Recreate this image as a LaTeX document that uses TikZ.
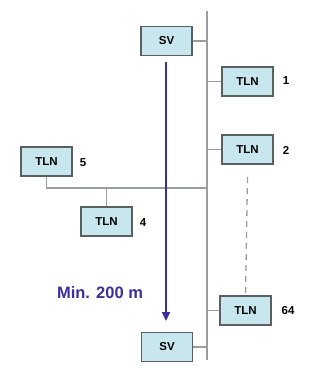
\documentclass[tikz,border=0pt]{standalone}
\usepackage{fontspec}
\setmainfont{Liberation Sans}
\usetikzlibrary{arrows.meta}
\definecolor{boxfill}{HTML}{C8E6EE}
\definecolor{boxline}{HTML}{5A5F62}
\definecolor{busline}{HTML}{9A9EA1}
\definecolor{arrowblue}{HTML}{3B2F9C}
\tikzset{
  dev/.style={draw=boxline, line width=1.1pt, fill=boxfill, minimum width=51pt, minimum height=29pt, inner sep=0pt, font=\bfseries\fontsize{11.5}{12}\selectfont},
  num/.style={font=\bfseries\fontsize{11.5}{12}\selectfont, inner sep=0pt},
  bus/.style={draw=busline, line width=1.3pt},
}
\begin{document}
\begin{tikzpicture}[x=1pt,y=-1pt]
\useasboundingbox (0,0) rectangle (332,377);
% bus
\coordinate (btop) at (207,11);
\coordinate (bbot) at (207,360);
\draw[bus] (btop) -- (bbot);
% nodes
\node[dev] (sv1) at (166.5,41) {SV};
\node[dev] (t1) at (247.5,81.5) {TLN};
\node[dev] (t2) at (247.5,149.5) {TLN};
\node[dev] (t64) at (245.5,310.5) {TLN};
\node[dev] (sv2) at (167,347) {SV};
\node[dev] (t5) at (46.5,161.5) {TLN};
\node[dev] (t4) at (106.5,221.5) {TLN};
% labels
\node[num] (l1) at (286,81) {1};
\node[num] (l2) at (286,150) {2};
\node[num] (l64) at (288,311) {64};
\node[num] (l5) at (83,163) {5};
\node[num] (l4) at (143,223) {4};
% stubs to bus
\draw[bus] (sv1.east) -- (sv1.east -| btop);
\draw[bus] (t1.west) -- (t1.west -| btop);
\draw[bus] (t2.west) -- (t2.west -| btop);
\draw[bus] (t64.west) -- (t64.west -| btop);
\draw[bus] (sv2.east) -- (sv2.east -| btop);
% branch
\coordinate (br) at (207,188);
\draw[bus] (t5.south) -- (t5.south |- br) -- (br);
\draw[bus] (t4.north) -- (t4.north |- br);
% dashed
\draw[draw=busline, line width=1.3pt, dash pattern=on 6pt off 5pt] (t2.south |- 0,177) -- (t64.north);
% arrow
\coordinate (as) at (166,62);
\coordinate (ae) at (166,321);
\draw[arrowblue, line width=1.6pt, -{Triangle[length=9pt,width=8pt]}] (as) -- (ae);
\node[text=arrowblue, font=\bfseries\fontsize{16.5}{18}\selectfont, inner sep=0pt] (min) at (100,293) {Min. 200 m};
\end{tikzpicture}
\end{document}
